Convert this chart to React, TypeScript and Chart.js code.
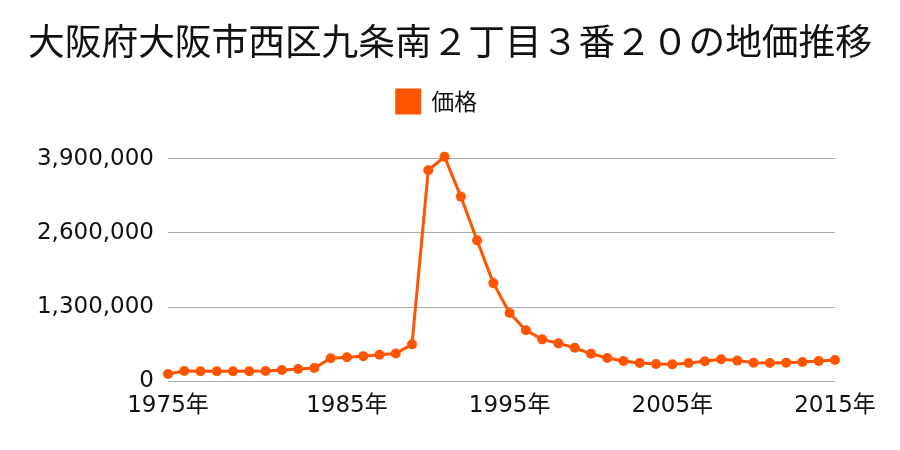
import React, { useEffect, useRef } from "react";
import { Chart, registerables } from "chart.js";

Chart.register(...registerables);

const title = "大阪府大阪市西区九条南２丁目３番２０の地価推移";
const seriesName = "価格";

// one category per observation; only some carry a visible tick label
const categories: string[] = [
  "1975年", "", "", "", "", "", "", "", "", "", "",
  "1985年", "", "", "", "", "", "", "", "", "",
  "1995年", "", "", "", "", "", "", "", "", "",
  "2005年", "", "", "", "", "", "", "", "", "",
  "2015年",
];

const prices: number[] = [
  130000, 183000, 177000, 177000, 177000, 177000, 183000, 200000, 218000, 236000,
  406000, 424000, 442000, 465000, 489000, 648000, 3694000, 3930000, 3234000, 2468000,
  1720000, 1196000, 895000, 736000, 666000, 589000, 483000, 410000, 356000, 323000,
  304000, 298000, 322000, 352000, 388000, 364000, 328000, 322000, 328000, 340000,
  358000, 376000,
];

const yTicks: number[] = [0, 1300000, 2600000, 3900000];

const fmt = (v: number) => String(Math.round(v)).replace(/\B(?=(\d{3})+(?!\d))/g, ",");

const legendSpace = {
  id: "legendSpace",
  beforeInit(chart: any) {
    const legend = chart.legend;
    if (!legend) return;
    const orig = legend.fit;
    legend.fit = function () {
      orig.call(this);
      this.height += 35.5;
    };
  },
  afterLayout(chart: any) {
    const legend = chart.legend;
    if (!legend) return;
    legend.left -= 13;
    legend.right -= 13;
  },
};

export default function App() {
  const ref = useRef<HTMLCanvasElement | null>(null);
  useEffect(() => {
    if (!ref.current) return;
    const font = '"DejaVu Sans", "Noto Sans CJK JP", sans-serif';
    const chart = new Chart(ref.current, {
      type: "line",
      plugins: [legendSpace],
      data: {
        labels: categories,
        datasets: [
          {
            label: seriesName,
            data: prices,
            borderColor: "#ff5500",
            backgroundColor: "#ff5500",
            borderWidth: 3,
            pointRadius: 5,
            pointBorderWidth: 0,
            pointBackgroundColor: "#ff5500",
            tension: 0,
            clip: false,
          },
        ],
      },
      options: {
        animation: false,
        responsive: true,
        maintainAspectRatio: false,
        layout: { padding: { left: 0, right: 0, top: 0, bottom: 19 } },
        plugins: {
          title: {
            display: true,
            text: title,
            color: "#111",
            font: { family: '"Noto Sans CJK JP", sans-serif', size: 36.7, weight: "normal" },
            padding: { top: 19, bottom: 15 },
          },
          legend: {
            display: true,
            labels: {
              color: "#111",
              boxWidth: 23,
              boxHeight: 23,
              padding: 12,
              font: { family: '"Noto Sans CJK JP", sans-serif', size: 23 },
            },
          },
          tooltip: { enabled: false },
        },
        scales: {
          x: {
            offset: false,
            grid: { display: false, drawTicks: false },
            border: { display: false },
            ticks: {
              autoSkip: false,
              maxRotation: 0,
              padding: 11,
              color: "#111",
              font: { family: font, size: 23 },
            },
          },
          y: {
            min: 0,
            max: 3900000,
            afterBuildTicks: (scale: any) => {
              scale.ticks = yTicks.map((v) => ({ value: v }));
            },
            afterFit: (scale: any) => {
              scale.width = 168;
            },
            grid: { color: "#aaaaaa", lineWidth: 1, drawTicks: false },
            border: { display: false },
            ticks: {
              padding: 14,
              color: "#111",
              font: { family: font, size: 23 },
              callback: (v: any) => fmt(Number(v)),
            },
          },
          yRight: {
            position: "right",
            display: true,
            grid: { display: false, drawTicks: false },
            border: { display: false },
            ticks: { display: false },
            afterFit: (scale: any) => {
              scale.width = 65;
            },
          },
        },
      },
    });
    return () => chart.destroy();
  }, []);
  return (
    <div style={{ position: "fixed", left: 0, top: 0, width: 900, height: 450 }}>
      <canvas ref={ref} />
    </div>
  );
}
